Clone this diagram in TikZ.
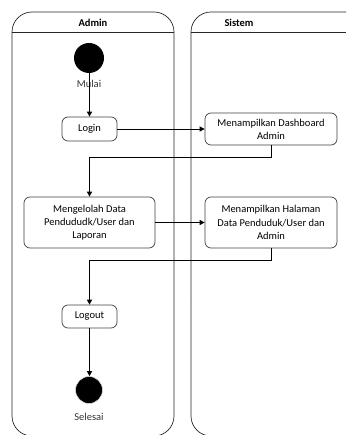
\documentclass[tikz,border=0pt]{standalone}
\usepackage{fontspec}
\setmainfont{Carlito}
\usetikzlibrary{arrows.meta}
\begin{document}
\begin{tikzpicture}[x=1pt,y=-1pt,
  lane/.style={draw=black!85,line width=0.7pt,rounded corners=20pt},
  act/.style={draw=black!75,line width=0.7pt,rounded corners=6pt,align=center,inner sep=0pt,font=\fontsize{10.5}{13.2}\selectfont},
  lanehead/.style={font=\bfseries\fontsize{10.5}{12}\selectfont},
  lbl/.style={font=\fontsize{10.5}{12}\selectfont,text=black!80},
  flow/.style={draw=black,line width=0.8pt,-{Triangle[length=5pt,width=5pt]}},
  startnode/.style={circle,fill=black,inner sep=0pt,minimum size=30pt},
  endnode/.style={circle,fill=black,draw=black!15,line width=0.6pt,inner sep=0pt,minimum size=27pt}]
\useasboundingbox (0,0) rectangle (346,435);
\begin{scope}
\clip (0,0) rectangle (346,435);
\draw[lane] (12,300) -- (12,12) -- (174,12) -- (174,300);
\draw[lane] (12,300) -- (12,436) -- (174,436) -- (174,300);
\draw[lane] (191,300) -- (191,12) -- (366,12) -- (366,300);
\draw[lane] (191,300) -- (191,436) -- (366,436) -- (366,300);
\draw[black!85,line width=0.7pt] (12,32) -- (174,32);
\draw[black!85,line width=0.7pt] (191,32) -- (346,32);
\end{scope}
\node[lanehead] (hadmin) at (93,22.5) {Admin};
\node[lanehead] (hsistem) at (239,22.5) {Sistem};

\node[startnode] (start) at (89,58) {};
\node[lbl] (mulai) at (89,84) {Mulai};
\node[act,minimum width=55pt,minimum height=24pt] (login) at (89.5,129) {Login};
\node[act,minimum width=132pt,minimum height=32pt] (dash) at (271,129) {Menampilkan Dashboard\\Admin};
\node[act,minimum width=131pt,minimum height=51pt] (kelola) at (89.5,222.5) {Mengelolah Data\\Pendududk/User dan\\Laporan};
\node[act,minimum width=132pt,minimum height=51pt] (hal) at (271,222.5) {Menampilkan Halaman\\Data Penduduk/User dan\\Admin};
\node[act,minimum width=55pt,minimum height=23pt] (logout) at (89.5,316.5) {Logout};
\node[endnode] (end) at (89,390) {};
\node[lbl] (selesai) at (89,417) {Selesai};

\coordinate (k1) at (271,157);
\coordinate (k2) at (89.5,157);
\coordinate (k3) at (271,260);
\coordinate (k4) at (89.5,260);

\draw[flow] (start.south -| login.north) -- (login.north);
\draw[flow] (login.east) -- (dash.west);
\draw[flow] (dash.south) -- (k1) -- (k2) -- (kelola.north);
\draw[flow] (kelola.east) -- (hal.west);
\draw[flow] (hal.south) -- (k3) -- (k4) -- (logout.north);
\draw[flow] (logout.south) -- (end.north -| logout.south);
\end{tikzpicture}
\end{document}
